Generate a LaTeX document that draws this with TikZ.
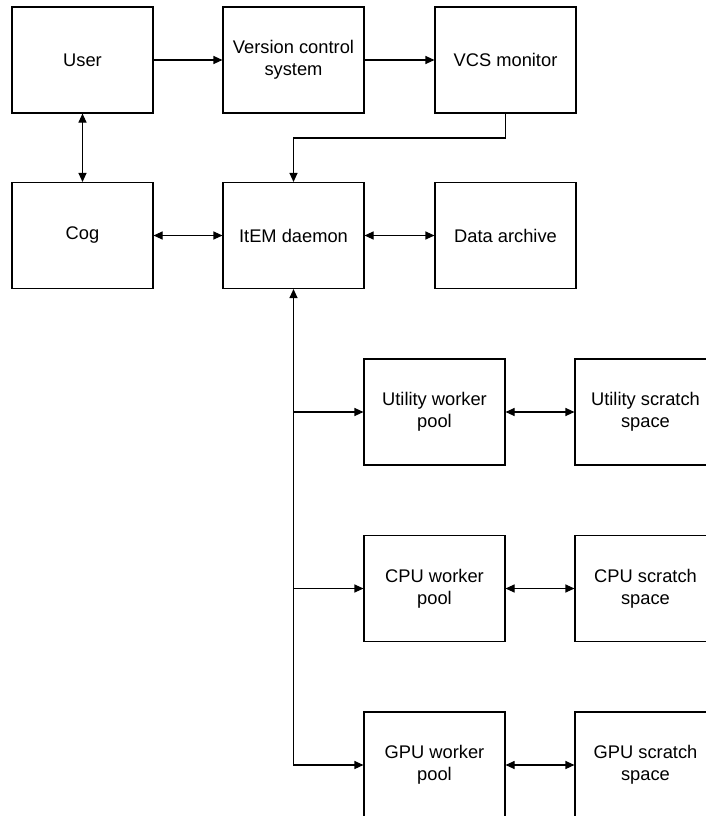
\documentclass[tikz,border=0pt]{standalone}
\usepackage{fontspec}
\setmainfont{Liberation Sans}
\usetikzlibrary{arrows.meta}
\begin{document}
\begin{tikzpicture}[x=1pt,y=-1pt,
  box/.style={draw=black, line width=1.1pt, minimum width=141pt, minimum height=106pt, inner sep=0pt, align=center,
    font=\fontsize{18.3}{22}\selectfont},
  conn/.style={line width=1.1pt, draw=black},
  tip/.tip={Triangle[length=9pt,width=8pt]}]
\useasboundingbox (0,0) rectangle (706,816);
\clip (0,0) rectangle (706,816);
\fill[white] (0,0) rectangle (706,816);
\node[box] (user) at (82.5,60) {User};
\node[box] (vcs) at (293.5,60) {Version control\\system};
\node[box] (mon) at (505.5,60) {VCS monitor};
\node[box] (cog) at (82.5,235.5) {Cog};
\node[box] (item) at (293.5,235.5) {ItEM daemon};
\node[box] (arch) at (505.5,235.5) {Data archive};
\node[box] (uw) at (434.5,412) {Utility worker\\pool};
\node[box] (us) at (645.5,412) {Utility scratch\\space};
\node[box] (cw) at (434.5,588.5) {CPU worker\\pool};
\node[box] (cs) at (645.5,588.5) {CPU scratch\\space};
\node[box] (gw) at (434.5,765) {GPU worker\\pool};
\node[box] (gs) at (645.5,765) {GPU scratch\\space};
\coordinate (bend) at (505.5,138);
\draw[conn,-tip] (user) -- (vcs);
\draw[conn,-tip] (vcs) -- (mon);
\draw[conn,-tip] (mon.south) -- (bend) -| (item.north);
\draw[conn,tip-tip] (user) -- (cog);
\draw[conn,tip-tip] (cog) -- (item);
\draw[conn,tip-tip] (item) -- (arch);
\draw[conn,tip-tip] (item.south) |- (gw.west);
\draw[conn,-tip] (item.south |- uw.west) -- (uw.west);
\draw[conn,-tip] (item.south |- cw.west) -- (cw.west);
\draw[conn,tip-tip] (uw) -- (us);
\draw[conn,tip-tip] (cw) -- (cs);
\draw[conn,tip-tip] (gw) -- (gs);
\end{tikzpicture}
\end{document}
